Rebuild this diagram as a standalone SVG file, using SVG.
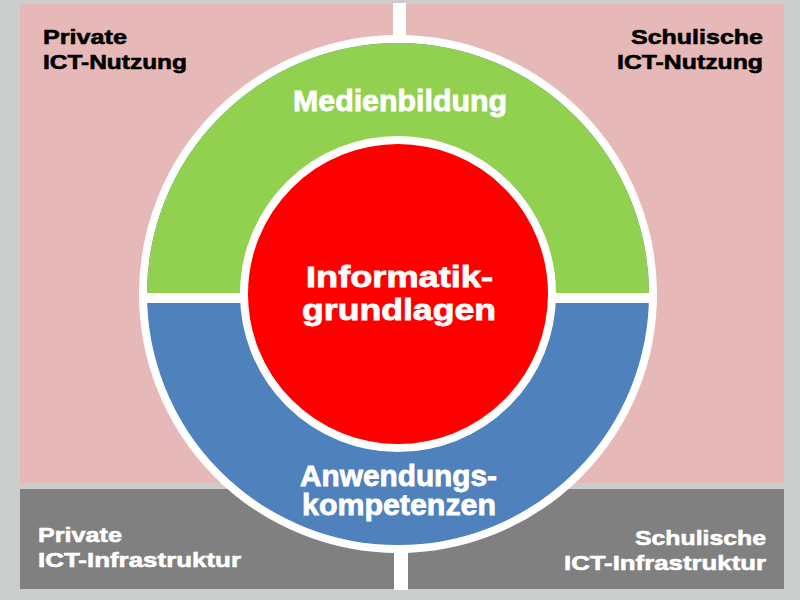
<svg xmlns="http://www.w3.org/2000/svg" width="800" height="600" viewBox="0 0 800 600">
<style>
  .t { font-family: "Liberation Sans", Arial, sans-serif; font-weight: bold; }
  .dark { fill: #000000; stroke: #000000; stroke-width: 0.6px; font-size: 21px; }
  .light { fill: #ffffff; stroke: #ffffff; stroke-width: 0.6px; font-size: 21px; }
  .ring { fill: #ffffff; }
  .big { fill: #ffffff; stroke: #ffffff; stroke-width: 0.8px; font-size: 29px; }
  .pink { fill: #e6b8b7; }
  .grey { fill: #808080; }
</style>
<defs>
  <clipPath id="topHalf"><rect x="0" y="0" width="800" height="293"/></clipPath>
</defs>
<rect x="0" y="0" width="800" height="600" fill="#cbcdcd"/>

<g id="private-nutzung">
  <rect class="pink" x="20" y="4" width="373" height="479"/>
  <text class="t dark" x="43" y="44" textLength="84" lengthAdjust="spacingAndGlyphs">Private</text>
  <text class="t dark" x="43" y="69" textLength="144" lengthAdjust="spacingAndGlyphs">ICT-Nutzung</text>
</g>
<g id="schulische-nutzung">
  <rect class="pink" x="406" y="4" width="378" height="479"/>
  <text class="t dark" x="631" y="44" textLength="132" lengthAdjust="spacingAndGlyphs">Schulische</text>
  <text class="t dark" x="617" y="69" textLength="146" lengthAdjust="spacingAndGlyphs">ICT-Nutzung</text>
</g>
<g id="private-infrastruktur">
  <rect class="grey" x="20" y="489" width="374" height="100"/>
  <text class="t light" x="38" y="542" textLength="84" lengthAdjust="spacingAndGlyphs">Private</text>
  <text class="t light" x="38" y="567" textLength="203" lengthAdjust="spacingAndGlyphs">ICT-Infrastruktur</text>
</g>
<g id="schulische-infrastruktur">
  <rect class="grey" x="408" y="489" width="376" height="100"/>
  <text class="t light" x="635" y="545" textLength="131" lengthAdjust="spacingAndGlyphs">Schulische</text>
  <text class="t light" x="564" y="570" textLength="202" lengthAdjust="spacingAndGlyphs">ICT-Infrastruktur</text>
</g>

<g id="connectors">
  <rect class="ring" x="393" y="3" width="13" height="40"/>
  <rect class="ring" x="394" y="540" width="14" height="50"/>
</g>

<g id="anwendungskompetenzen">
  <circle cx="398" cy="294" r="255" fill="#4f81bd" stroke="#ffffff" stroke-width="8"/>
  <text class="t big" x="300" y="486" textLength="197" lengthAdjust="spacingAndGlyphs">Anwendungs-</text>
  <text class="t big" x="302" y="515" textLength="194" lengthAdjust="spacingAndGlyphs">kompetenzen</text>
</g>
<g id="medienbildung">
  <circle cx="398" cy="294" r="251" fill="#92d050" clip-path="url(#topHalf)"/>
  <rect class="ring" x="144" y="293" width="510" height="10"/>
  <text class="t big" x="293" y="111" textLength="214" lengthAdjust="spacingAndGlyphs">Medienbildung</text>
</g>
<g id="informatikgrundlagen">
  <circle cx="398" cy="294" r="154" fill="#ff0000" stroke="#ffffff" stroke-width="8"/>
  <text class="t big" x="306" y="287" textLength="187" lengthAdjust="spacingAndGlyphs">Informatik-</text>
  <text class="t big" x="302" y="320" textLength="194" lengthAdjust="spacingAndGlyphs">grundlagen</text>
</g>
</svg>
